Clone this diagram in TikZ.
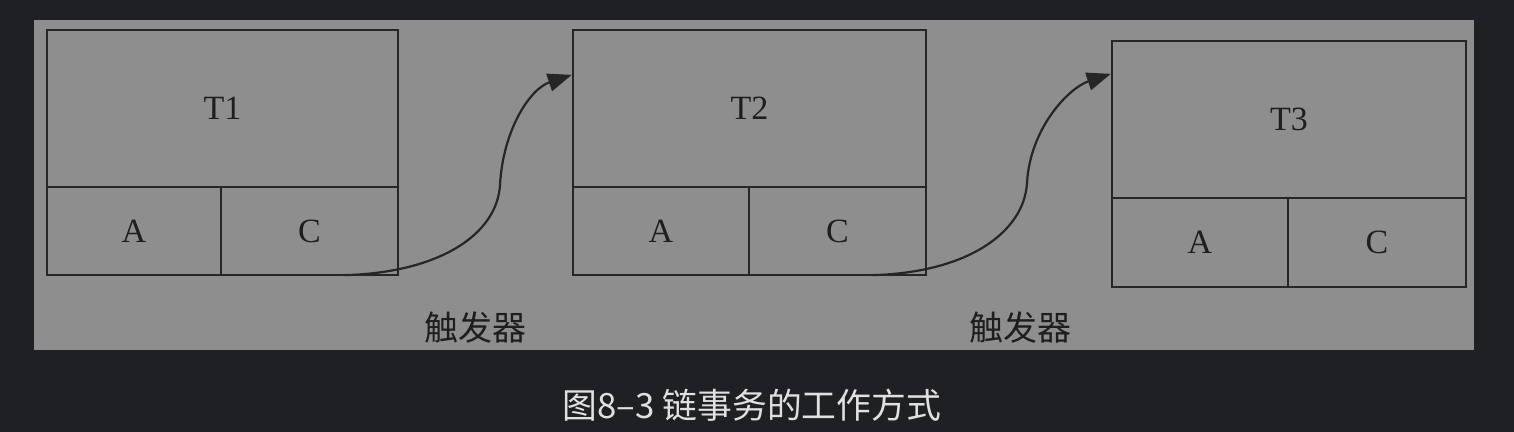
\documentclass[tikz,border=0pt]{standalone}
\usepackage{fontspec}
\setmainfont{Liberation Serif}
\newfontfamily\cjk{Noto Sans CJK SC}
\usetikzlibrary{arrows.meta}
\definecolor{bgdark}{HTML}{1F2023}
\definecolor{panel}{HTML}{8E8E8E}
\definecolor{ink}{HTML}{262626}
\definecolor{txt}{HTML}{1E1E1E}
\definecolor{capcol}{HTML}{E0E0E0}
\tikzset{
  cell/.style={draw=ink, line width=1.15pt, inner sep=0pt, text=txt, font=\fontsize{17}{17}\selectfont},
  conn/.style={draw=ink, line width=1.1pt, -{Triangle[length=12pt,width=9pt]}},
  triglabel/.style={text=txt, font=\cjk\fontsize{17}{17}\selectfont},
  caption/.style={text=capcol, font=\cjk\fontsize{17.4}{17.4}\selectfont}
}
\begin{document}
\begin{tikzpicture}[x=0.5pt,y=-0.5pt]
\fill[bgdark] (0,0) rectangle (1514,432);
\useasboundingbox (0,0) rectangle (1514,432);
\fill[panel] (34,20) rectangle (1474,350);
% T1
\node[cell, minimum width=175.5pt, minimum height=78.5pt] (T1) at (222.5,108.5) {T1};
\node[cell, minimum width=87pt, minimum height=44pt] (A1) at (134,231) {A};
\node[cell, minimum width=88.5pt, minimum height=44pt] (C1) at (309.5,231) {C};
% T2
\node[cell, minimum width=176.5pt, minimum height=78.5pt] (T2) at (749.5,108.5) {T2};
\node[cell, minimum width=88pt, minimum height=44pt] (A2) at (661,231) {A};
\node[cell, minimum width=88.5pt, minimum height=44pt] (C2) at (837.5,231) {C};
% T3
\node[cell, minimum width=177pt, minimum height=78.5pt] (T3) at (1289,119.5) {T3};
\node[cell, minimum width=88pt, minimum height=44.5pt] (A3) at (1200,242.5) {A};
\node[cell, minimum width=89pt, minimum height=44.5pt] (C3) at (1377,242.5) {C};
% trigger labels
\node[triglabel] (L1) at (475,328) {触发器};
\node[triglabel] (L2) at (1020,328) {触发器};
% connectors
\coordinate (m1) at (500,185);
\coordinate (m2) at (1027,183);
\draw[conn] ([xshift=-28pt,yshift=0.5pt]C1.south east) .. controls +(47.5pt,1pt) and +(-1.5pt,-25pt) .. (m1)
  .. controls +(1.5pt,27.5pt) and +(-21pt,-7pt) .. ([yshift=-23pt]T2.north west);
\draw[conn] ([xshift=-28pt,yshift=0.5pt]C2.south east) .. controls +(47.5pt,1pt) and +(-1.5pt,-25pt) .. (m2)
  .. controls +(1.5pt,27.5pt) and +(-21pt,-7pt) .. ([yshift=-17pt]T3.north west);
% caption
\node[caption] (cap) at (752,405) {图8–3 链事务的工作方式};
\end{tikzpicture}
\end{document}
